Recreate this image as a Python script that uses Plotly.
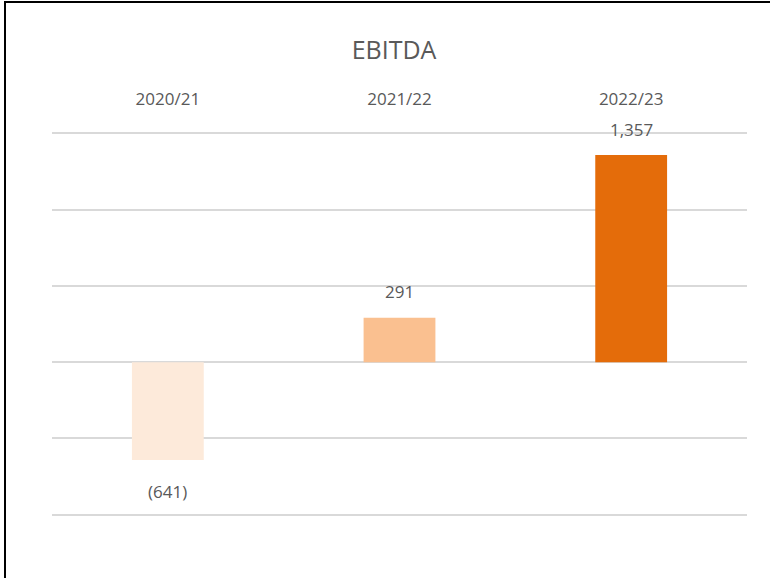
import plotly.graph_objects as go

years = ['2020/21', '2021/22', '2022/23']
ebitda = [-641, 291, 1357]
bar_colors = ['#FDEADA', '#FAC090', '#E46C0A']


def fmt(v):
    """Excel-style accounting label"""
    return f'({abs(v):,})' if v < 0 else f'{v:,}'


font_family = 'Open Sans, sans-serif'
text_color = '#595959'

# plot area in pixels
top, bottom = 131, 517
left, right = 52, 747
ph = bottom - top
pw = right - left

fig = go.Figure()

fig.add_trace(go.Bar(
    x=years,
    y=ebitda,
    marker_color=bar_colors,
    marker_line_width=0,
    hoverinfo='x+y'
))

# data labels above / below each bar
for yr, v in zip(years, ebitda):
    fig.add_annotation(
        x=yr, y=v,
        text=fmt(v),
        showarrow=False,
        yshift=26 if v >= 0 else -32,
        font=dict(family=font_family, size=17, color=text_color)
    )

fig.update_layout(
    title=dict(
        text='EBITDA',
        x=394 / 770, xanchor='center',
        y=1 - 50 / 578, yanchor='middle', yref='container',
        font=dict(family=font_family, size=25, color=text_color)
    ),
    width=770,
    height=578,
    plot_bgcolor='white',
    paper_bgcolor='white',
    showlegend=False,
    bargap=0.69,
    margin=dict(t=top, b=578 - bottom, l=left, r=770 - right),
    shapes=[
        # frame lines of the pasted image
        dict(type='line', xref='paper', yref='paper',
             x0=(5 - left) / pw, x1=(5 - left) / pw,
             y0=(bottom - 2) / ph, y1=-0.3,
             line=dict(color='black', width=2)),
        dict(type='line', xref='paper', yref='paper',
             x0=(4 - left) / pw, x1=1.1,
             y0=(bottom - 2) / ph, y1=(bottom - 2) / ph,
             line=dict(color='black', width=2)),
    ]
)

fig.update_xaxes(
    side='top',
    showgrid=False,
    showline=False,
    ticks='',
    ticklabelstandoff=22,
    tickfont=dict(family=font_family, size=17, color=text_color)
)

fig.update_yaxes(
    range=[-1015, 1515],
    tickvals=[-1000, -500, 0, 500, 1000, 1500],
    showticklabels=False,
    gridcolor='#D9D9D9',
    gridwidth=2,
    zeroline=True,
    zerolinecolor='#D9D9D9',
    zerolinewidth=2,
    showline=False
)

fig.write_html('out.html', config={'displayModeBar': False},
               post_script="document.body.style.margin='0';")
